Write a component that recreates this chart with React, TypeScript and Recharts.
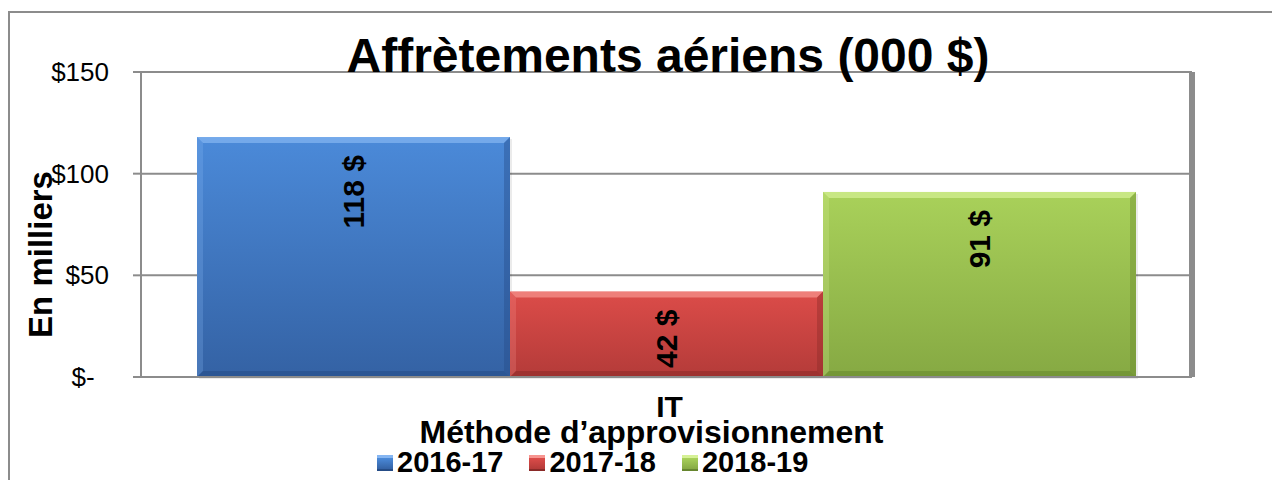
import React from 'react';
import { BarChart, Bar, XAxis, YAxis, CartesianGrid, LabelList } from 'recharts';

const categories = ['IT'];
const seriesNames = ['2016-17', '2017-18', '2018-19'];
const values1617 = [118];
const values1718 = [42];
const values1819 = [91];
const yTicks = [0, 50, 100, 150];

const seriesKeys = ['s1617', 's1718', 's1819'];
const data = categories.map((cat, i) => ({
    cat,
    s1617: values1617[i],
    s1718: values1718[i],
    s1819: values1819[i],
}));

const FONT = '"Liberation Sans", Arial, Helvetica, sans-serif';
const AXIS = '#8c8c8c';

const palette = [
    { top: '#4b8ad9', bottom: '#3462a4', light: '#86b6f2', dark: '#254c86' },
    { top: '#dc4c49', bottom: '#b43b39', light: '#f79590', dark: '#8a2a28' },
    { top: '#a9d15a', bottom: '#86a943', light: '#d6f196', dark: '#66862e' },
];

// bar with a soft bevel, like the office 3D look
const BevelRect = ({ x, y, width: w, height: h, idx }: any) => {
    if (!w || !h) return null;
    const c = palette[idx];
    const b = Math.min(6, w / 4, h / 4);
    const gid = `bar-grad-${idx}`;
    return (
        <g>
            <defs>
                <linearGradient id={gid} x1="0" y1="0" x2="0" y2="1">
                    <stop offset="0%" stopColor={c.top} />
                    <stop offset="100%" stopColor={c.bottom} />
                </linearGradient>
            </defs>
            <rect x={x + 2} y={y + 2} width={w} height={h} fill="rgba(0,0,0,0.08)" />
            <rect x={x} y={y} width={w} height={h} fill={`url(#${gid})`} />
            <polygon points={`${x},${y} ${x + w},${y} ${x + w - b},${y + b} ${x + b},${y + b}`} fill={c.light} opacity={0.7} />
            <polygon points={`${x},${y} ${x + b},${y + b} ${x + b},${y + h - b} ${x},${y + h}`} fill={c.light} opacity={0.25} />
            <polygon points={`${x + w},${y} ${x + w},${y + h} ${x + w - b},${y + h - b} ${x + w - b},${y + b}`} fill={c.dark} opacity={0.4} />
            <polygon points={`${x},${y + h} ${x + w},${y + h} ${x + w - b},${y + h - b} ${x + b},${y + h - b}`} fill={c.dark} opacity={0.55} />
        </g>
    );
};

const makeShape = (idx: number) => (props: any) => <BevelRect {...props} idx={idx} />;

const BarValue = (props: any) => {
    const { x, y, width, value } = props;
    const cx = x + width / 2;
    const ty = y + 18;
    return (
        <text
            x={cx} y={ty}
            transform={`rotate(-90 ${cx} ${ty})`}
            textAnchor="end" dominantBaseline="central"
            fontFamily={FONT} fontWeight="bold" fontSize={30} fill="#000"
        >
            {`${value} $`}
        </text>
    );
};

const YTick = ({ x, y, payload }: any) => (
    <text x={x} y={y} textAnchor="end" dominantBaseline="central" fontFamily={FONT} fontSize={26} fill="#000">
        {payload.value === 0 ? '$-\u00A0\u00A0' : `$${payload.value}`}
    </text>
);

const XTick = ({ x, y, payload }: any) => (
    <text x={x + 3} y={y + 40} textAnchor="middle" fontFamily={FONT} fontWeight="bold" fontSize={30} fill="#000">
        {payload.value}
    </text>
);

const YTitle = ({ viewBox }: any) => {
    const cx = 40;
    const cy = viewBox.y + viewBox.height / 2 + 30;
    return (
        <text x={cx} y={cy} transform={`rotate(-90 ${cx} ${cy})`} textAnchor="middle" dominantBaseline="central"
            fontFamily={FONT} fontWeight="bold" fontSize={33} fill="#000">
            En milliers
        </text>
    );
};

const XTitle = ({ viewBox }: any) => (
    <text x={viewBox.x + viewBox.width / 2 - 15} y={viewBox.y + 66} textAnchor="middle"
        fontFamily={FONT} fontWeight="bold" fontSize={32} fill="#000">
        Méthode d’approvisionnement
    </text>
);

const LegendSwatch = ({ idx }: { idx: number }) => {
    const c = palette[idx];
    return (
        <div style={{
            width: 16, height: 16, boxSizing: 'border-box',
            background: `linear-gradient(${c.top}, ${c.bottom})`,
            borderTop: `3px solid ${c.light}`,
            borderBottom: `2px solid ${c.dark}`,
            marginRight: 4,
        }} />
    );
};

export default function App() {
    return (
        <div style={{ position: 'relative', width: 1272, height: 480, overflow: 'hidden', background: '#fff' }}>
            <style>{'body{margin:0}'}</style>
            <div style={{
                position: 'absolute', left: 8, top: 11, width: 1400, height: 600,
                borderLeft: `2px solid ${AXIS}`, borderTop: `2px solid ${AXIS}`,
            }} />
            <BarChart
                width={1272} height={480} data={data}
                margin={{ top: 72, right: 72, left: 0, bottom: 43 }}
                barCategoryGap={56} barGap={0}
                style={{ position: 'absolute', left: 0, top: 0 }}
            >
                <CartesianGrid horizontal vertical={false} stroke={AXIS} strokeWidth={2} />
                <XAxis
                    dataKey="cat" height={60} tickSize={0} tickMargin={0} tickLine={false}
                    axisLine={{ stroke: AXIS, strokeWidth: 2 }}
                    tick={<XTick />} label={XTitle}
                />
                <YAxis
                    width={141} domain={[0, 150]} ticks={yTicks} interval={0}
                    tickSize={8} tickMargin={24}
                    tickLine={{ stroke: AXIS, strokeWidth: 2 }}
                    axisLine={{ stroke: AXIS, strokeWidth: 2 }}
                    tick={<YTick />} label={YTitle}
                />
                <YAxis
                    yAxisId="frame" orientation="right" width={8} domain={[0, 150]} ticks={yTicks}
                    tick={false} tickLine={false}
                    axisLine={{ stroke: AXIS, strokeWidth: 6 }}
                />
                {seriesKeys.map((k, i) => (
                    <Bar key={k} dataKey={k} name={seriesNames[i]} fill={palette[i].top}
                        shape={makeShape(i)} isAnimationActive={false}>
                        <LabelList dataKey={k} content={<BarValue />} />
                    </Bar>
                ))}
            </BarChart>
            <div style={{
                position: 'absolute', left: 0, top: 32, width: 1336, textAlign: 'center',
                fontFamily: FONT, fontWeight: 'bold', fontSize: 48, lineHeight: '48px', color: '#000',
            }}>
                Affrètements aériens (000 $)
            </div>
            <div style={{
                position: 'absolute', left: 377, top: 448, display: 'flex', alignItems: 'center',
                fontFamily: FONT, fontWeight: 'bold', fontSize: 29, lineHeight: '29px', color: '#000',
            }}>
                {seriesNames.map((n, i) => (
                    <div key={n} style={{ display: 'flex', alignItems: 'center', marginRight: 26 }}>
                        <LegendSwatch idx={i} />
                        <span>{n}</span>
                    </div>
                ))}
            </div>
        </div>
    );
}
